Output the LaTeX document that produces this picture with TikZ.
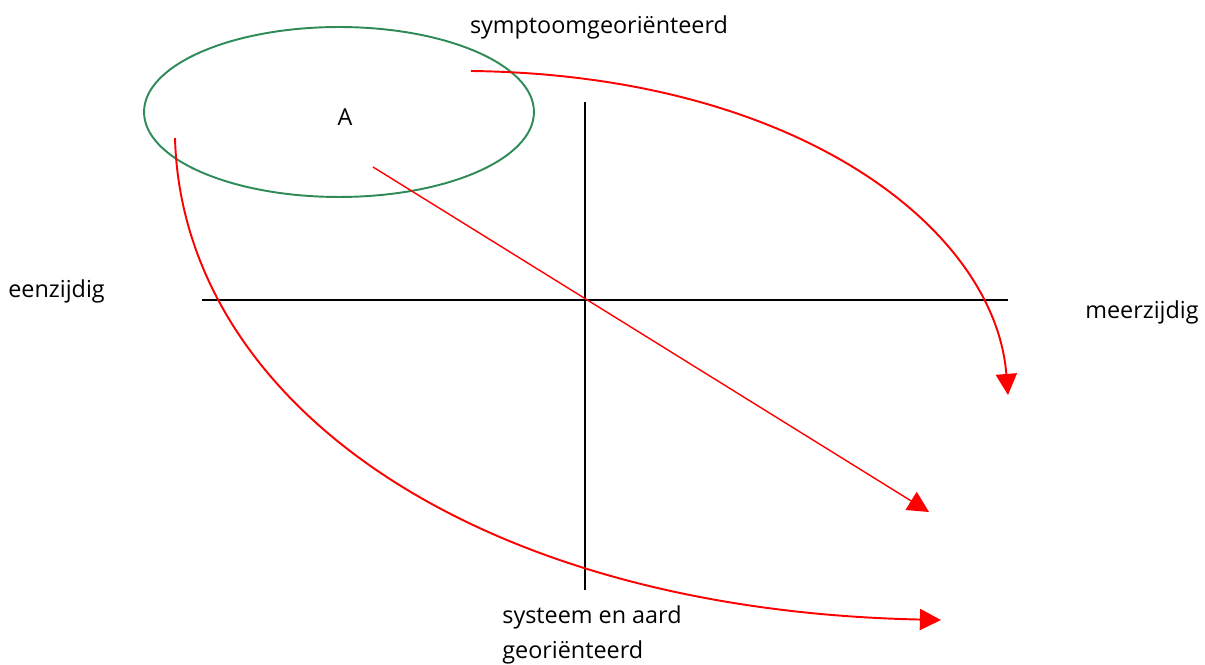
\documentclass[tikz,border=0pt]{standalone}
\usepackage{fontspec}
\setmainfont{Open Sans}
\usetikzlibrary{arrows.meta,shapes.geometric}
\definecolor{kgreen}{HTML}{2E8B57}
\definecolor{kred}{HTML}{FF0000}

\tikzset{
  axisline/.style={draw=black,line width=1.1pt},
  movearrow/.style={draw=kred,line width=1.1pt,-{Triangle[length=12pt,width=12pt]}},
  txt/.style={font=\fontsize{13.3}{19.9}\selectfont,inner sep=0pt}
}

\begin{document}
\begin{tikzpicture}[x=0.02cm,y=-0.02cm]
\useasboundingbox (0,0) rectangle (1205,665);
% quadrant axes
\coordinate (hl) at (202,300);
\coordinate (hr) at (1008,300);
\coordinate (vt) at (585,102);
\coordinate (vb) at (585,590);
\draw[axisline] (hl) -- (hr);
\draw[axisline] (vt) -- (vb);
% position A
\node[draw=kgreen,line width=1.1pt,ellipse,inner sep=0pt,minimum width=7.8cm,minimum height=3.4cm] (blobA) at (339,112) {};
\node[txt] (lblA) at (345,117) {A};
% axis labels
\node[txt,anchor=west] (left) at (8,291) {eenzijdig};
\node[txt,anchor=west] (right) at (1085,312) {meerzijdig};
\node[txt] (top) at (599,27) {symptoomgeoriënteerd};
\node[txt,anchor=north west,align=left] (bottom) at (502,605) {systeem en aard\\georiënteerd};
% moves out of A
\coordinate (s1) at (471,71);
\coordinate (e1) at (1008,395);
\coordinate (s2) at (175,138);
\coordinate (e2) at (941,620);
\coordinate (s3) at (373,167);
\coordinate (e3) at (929,512);
\draw[movearrow] (s1) .. controls (800,75) and (995,230) .. (e1);
\draw[movearrow] (s2) .. controls (182,400) and (470,610) .. (e2);
\draw[movearrow,line width=0.8pt] (s3) -- (e3);
\end{tikzpicture}
\end{document}
